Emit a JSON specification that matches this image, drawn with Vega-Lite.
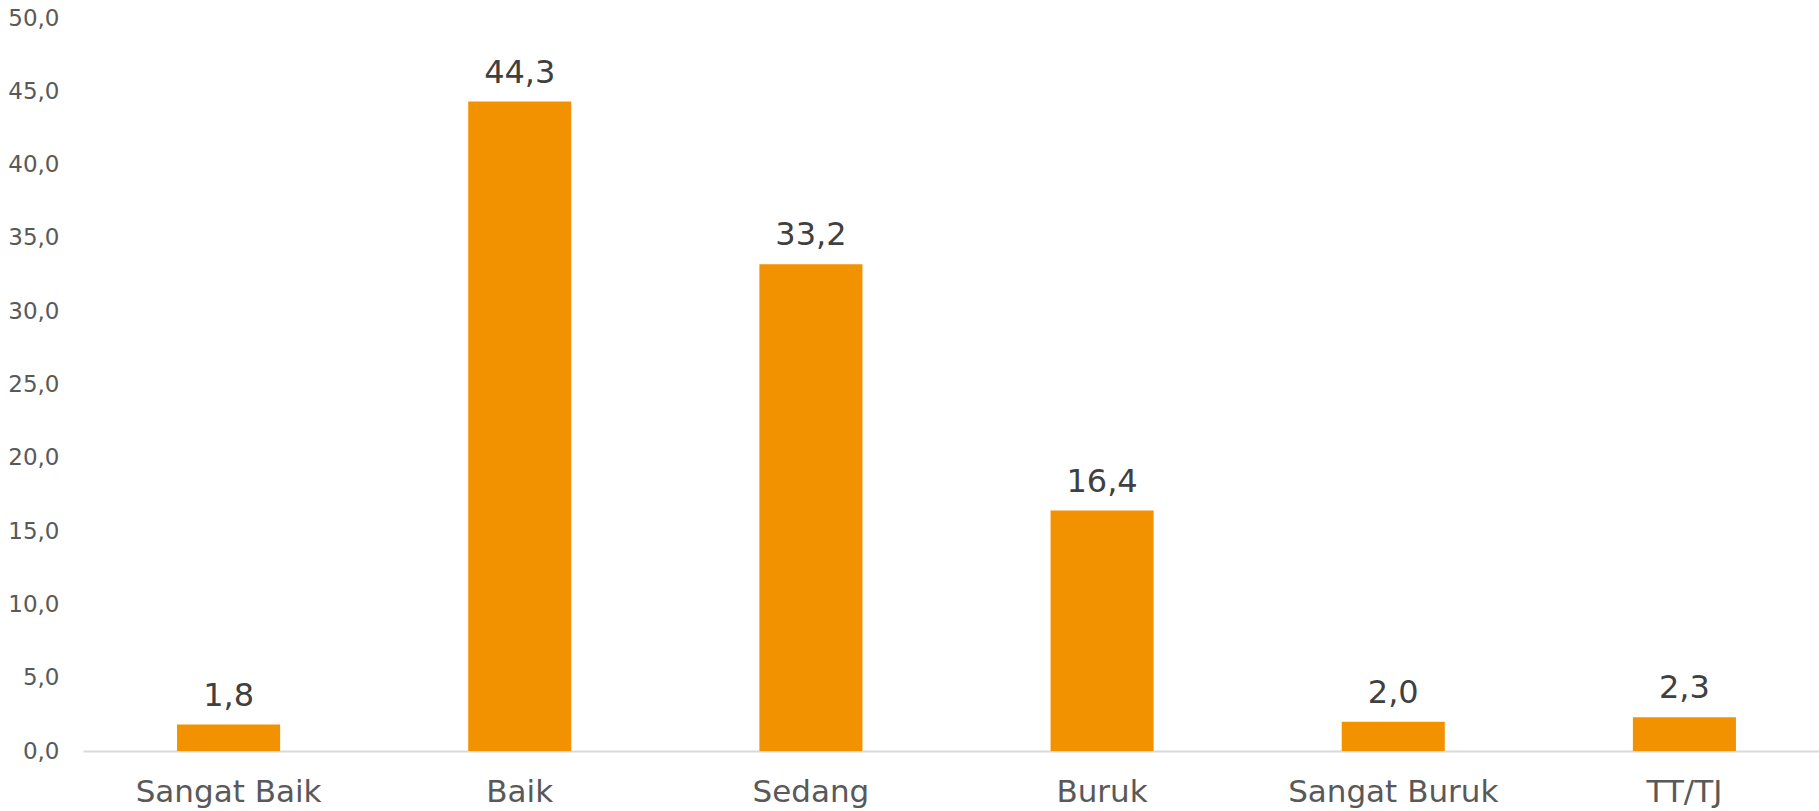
{
  "$schema": "https://vega.github.io/schema/vega-lite/v6.json",
  "autosize": {"type": "none"},
  "width": 1736,
  "height": 733,
  "padding": {"left": 83, "top": 18, "right": 0, "bottom": 60},
  "background": "white",
  "config": {"view": {"stroke": null}, "font": "DejaVu Sans"},
  "data": {"values": [
    {"kategori": "Sangat Baik", "nilai": 1.8},
    {"kategori": "Baik", "nilai": 44.3},
    {"kategori": "Sedang", "nilai": 33.2},
    {"kategori": "Buruk", "nilai": 16.4},
    {"kategori": "Sangat Buruk", "nilai": 2.0},
    {"kategori": "TT/TJ", "nilai": 2.3}
  ]},
  "encoding": {
    "x": {"field": "kategori", "type": "nominal", "sort": null,
      "scale": {"paddingInner": 0.646, "paddingOuter": 0.323, "range": [0, 1747]},
      "axis": {"title": null, "labelAngle": 0, "labelFontSize": 31, "labelLimit": 0, "labelColor": "#595959", "labelPadding": 26, "ticks": false, "domainColor": "#d9d9d9", "domainWidth": 2}},
    "y": {"field": "nilai", "type": "quantitative",
      "scale": {"domain": [0, 50], "nice": false},
      "axis": {"title": null, "values": [0,5,10,15,20,25,30,35,40,45,50], "labelExpr": "replace(format(datum.value, '.1f'), '.', ',')", "labelFontSize": 23, "labelColor": "#595959", "labelPadding": 24, "ticks": false, "domain": false, "grid": false}}
  },
  "layer": [
    {"mark": {"type": "bar", "color": "#F39200"}},
    {"mark": {"type": "text", "baseline": "alphabetic", "dy": -19, "fontSize": 32, "color": "#404040"},
     "encoding": {"text": {"field": "label"}},
     "transform": [{"calculate": "replace(format(datum.nilai, '.1f'), '.', ',')", "as": "label"}]}
  ]
}
